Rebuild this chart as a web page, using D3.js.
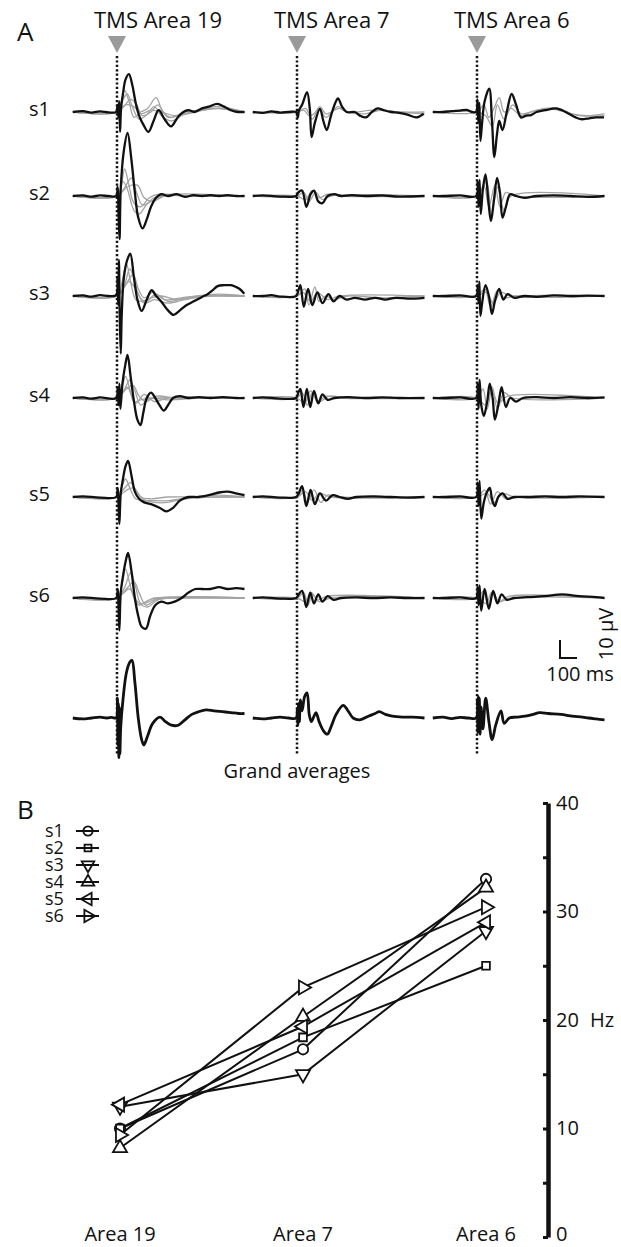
<!DOCTYPE html>
<html><head><meta charset="utf-8">
<script src="https://cdn.jsdelivr.net/npm/d3@7"></script>
<style>body{margin:0;background:#fff} svg{display:block} text{font-family:"Open Sans",sans-serif;fill:#111}</style>
</head><body><svg id="c" width="621" height="1247"></svg>
<script>
// ---------------- DATA ----------------
const headers = ["TMS Area 19", "TMS Area 7", "TMS Area 6"];
const subjects = ["s1", "s2", "s3", "s4", "s5", "s6"];
const gaLabel = "Grand averages";
// traces: [ms after TMS, µV]
const s1_a19 = [[-260,0],[-200,0.5],[-150,-0.3],[-100,0.4],[-50,-0.2],[-5,0],[3,4],[8,-3],[13,6],[18,-11],[24,2],[35,10],[50,18],[70,21],[90,15],[110,5],[130,-2],[155,-7],[185,-11],[215,-5],[245,1],[280,-4],[318,-8],[350,-4],[376,-1],[420,1],[455,0],[500,2],[540,3],[590,4.5],[630,3],[670,1],[710,0],[750,0]];
const s1_a7 = [[-260,0],[-200,-0.5],[-150,0.3],[-100,-0.3],[-50,0],[-5,0],[5,-3],[12,1],[30,4],[59,11],[75,2],[86,-14],[105,-6],[135,1.7],[155,-5],[175,-10],[200,-2],[225,5],[241,7.6],[265,3],[292,0],[340,0],[370,-2],[405,-3],[440,0],[474,2],[510,1],[553,0],[600,-0.5],[650,-1.5],[700,-3],[720,-2.5],[745,-1]];
const s1_a6 = [[-260,0],[-200,0],[-150,0.5],[-100,0.8],[-60,1.2],[-30,0],[-5,0],[3,7],[8,-6],[14,5],[20,-16],[30,-6],[45,6],[72,13],[88,-5],[102,-25],[118,-12],[131,-5],[150,-10],[175,0],[204,10],[230,4],[259,-3],[290,-2],[318,-1.7],[350,0],[400,1],[465,2],[500,1],[540,-1],[580,-3],[612,-4],[660,-3.5],[700,-3],[747,-3]];
const s2_a19 = [[-260,0],[-200,0.3],[-150,-0.3],[-100,0.3],[-50,0],[-5,0],[4,5],[9,-10],[15,-24],[22,4],[40,25],[62,35],[85,20],[105,2],[125,-12],[150,-18],[175,-13],[200,-6],[230,-1],[260,1],[300,0],[350,1],[400,-0.5],[450,0.5],[500,0],[550,0.5],[600,0],[650,0.5],[700,0],[750,0]];
const s2_a7 = [[-260,0],[-200,0.3],[-100,-0.3],[-5,0],[8,2],[30,3],[55,-6],[80,1],[100,3],[125,-3],[150,-4],[180,0],[220,1],[260,0],[320,0.5],[400,0],[500,0.3],[600,-0.3],[750,0]];
const s2_a6 = [[-260,0],[-200,0],[-100,0.3],[-5,0],[4,8],[9,-6],[15,9],[22,-10],[35,4],[50,12],[68,-4],[82,-14],[100,-2],[118,10],[135,2],[150,-12],[170,-6],[195,1],[230,0],[280,-1],[350,0],[450,0.3],[550,0],[650,-0.5],[750,0]];
const s3_a19 = [[-260,0],[-200,0.3],[-150,-0.3],[-100,0.5],[-50,0],[-5,0.5],[3,10],[7,-5],[11,20],[16,-10],[22,-32],[28,-10],[40,10],[60,20],[78,23.5],[100,10],[120,-2],[145,-8.3],[175,-2],[204,3.2],[230,0],[260,-3],[300,-8],[333,-10.5],[370,-8],[410,-5],[455,-2.8],[500,-0.5],[533,1],[560,3],[592,5.5],[630,6],[670,6],[700,5],[720,4],[749,1.3]];
const s3_a7 = [[-260,0],[-200,0],[-150,0.5],[-100,-0.3],[-5,0],[8,3],[20,6],[40,-6],[65,4],[90,-5],[120,2],[150,-4],[185,1],[215,-3],[250,0],[290,-2],[340,-1],[400,-2],[460,-1],[520,-2],[580,-1],[650,-1.5],[750,-1]];
const s3_a6 = [[-260,0],[-200,0],[-100,0.3],[-5,0],[4,6],[9,-4],[14,8],[20,-11],[30,-4],[50,6],[70,0],[88,-10],[105,-3],[130,4],[155,-2],[180,1],[220,-1],[280,0],[350,-0.5],[450,0.3],[550,0],[650,0.2],[750,0]];
const s4_a19 = [[-260,0],[-200,0.3],[-150,-0.3],[-100,0.3],[-5,0],[4,6],[9,-4],[14,8],[20,-6],[32,8],[48,18],[62,24],[80,12],[100,-2],[120,-12],[138,-15],[155,-8],[175,0],[200,3],[225,0],[250,-4],[275,-7],[300,-4],[330,0],[370,1],[420,0],[480,0.5],[550,0],[620,0.5],[700,0],[750,0]];
const s4_a7 = [[-260,0],[-200,0.3],[-100,-0.3],[-5,0],[8,3],[20,5],[38,-5],[58,5],[78,-5],[100,4],[125,-3],[150,2],[180,-1],[220,0],[300,0.5],[400,0],[500,0.3],[600,0],[750,0]];
const s4_a6 = [[-260,0],[-200,0],[-100,0.3],[-5,0],[4,8],[9,-6],[15,10],[25,-4],[40,-10],[60,-2],[75,8],[92,0],[105,-12],[125,-4],[145,6],[170,-5],[195,0],[230,-2],[270,0],[350,0.5],[450,0],[550,0.5],[650,0],[750,0.3]];
const s5_a19 = [[-260,0],[-200,0.3],[-100,-0.3],[-5,0],[4,5],[9,-4],[14,-15],[22,2],[35,10],[50,17],[65,20],[85,12],[105,3],[130,-1],[160,-3],[200,-4],[250,-6],[290,-8],[330,-6],[370,-2],[420,0],[480,0],[540,1],[600,2.5],[650,3],[700,2],[750,1]];
const s5_a7 = [[-260,0],[-200,0.3],[-100,-0.3],[-5,0],[10,2],[30,6],[55,-5],[80,4],[105,-4],[135,2],[170,-2],[210,1],[250,0],[300,-1],[350,0],[450,0.3],[550,0],[650,-0.3],[750,0]];
const s5_a6 = [[-260,0],[-200,0],[-100,0.3],[-5,0],[4,8],[9,-5],[15,9],[25,-12],[40,-3],[60,3],[75,5],[90,-2],[105,-5],[125,0],[150,2],[180,-1],[220,0],[300,0],[400,0.3],[500,0],[600,0.3],[750,0]];
const s6_a19 = [[-260,0],[-200,0.3],[-100,-0.3],[-5,0],[4,5],[9,-5],[14,-18],[22,3],[35,12],[50,20],[65,25],[85,15],[105,0],[125,-10],[145,-16],[170,-17],[195,-10],[225,-4],[260,-2],[300,-3],[340,-2],[380,0],[420,3],[460,5],[500,5],[550,5],[600,6],[650,5],[700,5.5],[750,5]];
const s6_a7 = [[-260,0],[-200,0.3],[-100,-0.3],[-5,0],[10,2],[30,4],[55,-5],[78,3],[100,-3],[125,2],[150,-2],[180,1],[215,-1],[260,0],[350,0.3],[450,0],[550,0.3],[650,0],[750,0]];
const s6_a6 = [[-260,0],[-200,0],[-100,0.3],[-5,0],[4,6],[9,-4],[15,7],[25,-7],[45,5],[70,-6],[95,4],[120,-3],[145,2],[175,-1],[220,0],[300,0.5],[400,1],[500,2],[600,1],[700,0.5],[750,0]];
const ga_a19 = [[-260,0],[-200,-0.5],[-150,0],[-100,0.5],[-60,0],[-30,0.3],[-5,0],[2,11],[5,-15],[8,8],[11,-22],[14,6],[17,-20],[22,-5],[35,10],[55,25],[75,31],[88,32],[105,20],[125,0],[145,-12],[158,-15],[180,-10],[210,-3],[253,0.5],[285,-2],[320,-4],[360,-4],[400,-1],[440,2],[480,3.5],[524,4.5],[570,4],[620,3.5],[670,3],[715,2.5],[750,2.5]];
const ga_a7 = [[-260,0],[-200,-0.5],[-150,0],[-100,0.5],[-50,0],[-5,0],[2,5],[5,-4],[9,8],[14,-2],[20,10],[30,4],[45,12],[59,14],[72,2],[84,-2],[100,1],[112,3],[130,-2],[155,-7],[178,-9],[200,-5],[230,2],[272,7],[300,4],[330,0],[370,-1],[420,1],[460,2.5],[484,3.5],[520,2],[560,1],[620,0.5],[680,0.5],[750,0]];
const ga_a6 = [[-260,0],[-200,0.5],[-150,-0.3],[-100,0.3],[-50,0],[-5,0],[2,10],[5,-8],[8,12],[11,-8],[14,11],[18,-9],[24,6],[35,-6],[51,11],[70,-2],[89,-12],[110,-4],[141,4],[160,-3],[190,0],[230,0.5],[283,1],[330,2],[368,3],[420,2.5],[494,2],[560,1],[620,0.5],[655,0],[700,-0.5],[750,-1]];
// grey single-channel traces
const s1_a19_g = [[[-260,0],[0,0],[20,4],[45,12],[70,6],[100,-3],[140,0],[180,2],[230,8],[270,0],[320,-3],[400,0],[500,1],[600,2],[750,0]],[[-260,0],[0,0],[30,6],[60,10],[90,3],[130,-4],[170,-2],[220,3],[260,-2],[320,-5],[400,-1],[550,2],[750,0]],[[-260,0],[0,0],[40,3],[80,7],[110,5],[150,-2],[200,0],[240,4],[300,-3],[360,-2],[460,0],[580,3],[750,0]],[[-260,0],[0,0],[50,4],[100,3],[140,-1],[200,1],[260,0],[340,-2],[450,0],[600,2],[750,0]]];
const s1_a7_g = [[[-260,0],[0,0],[40,1],[70,-2],[100,-1],[135,3],[170,-1],[220,1],[250,2],[290,0],[400,-1],[500,1],[600,0],[750,0]],[[-260,0],[0,0],[50,2],[90,-4],[130,2],[170,-3],[240,3],[300,0],[450,1],[600,0],[750,-1]]];
const s1_a6_g = [[[-260,0],[0,0],[40,4],[70,-3],[100,2],[131,8],[160,0],[200,2],[260,-2],[320,0],[400,2],[480,2],[560,-1],[650,-2],[750,-1]],[[-260,0],[0,0],[50,-2],[90,-8],[120,4],[160,-4],[210,4],[260,-1],[350,1],[450,1.5],[600,-2],[750,-2]]];
const s2_a19_g = [[[-260,0],[0,0],[25,6],[45,15],[70,6],[100,-4],[140,-6],[190,-1],[250,1],[400,0],[600,0],[750,0]],[[-260,0],[0,0],[40,4],[85,10],[115,2],[150,-5],[200,-3],[260,0],[450,0],[750,0]],[[-260,0],[0,0],[60,5],[120,6],[160,-1],[210,-3],[280,0],[500,0],[750,0]],[[-260,0],[0,0],[35,8],[60,4],[100,-8],[130,-10],[180,-4],[240,0],[750,0]]];
const s2_a7_g = [[[-260,0],[0,0],[40,2],[70,-3],[110,2],[150,-2],[200,0],[750,0]],[[-260,0],[0,0],[50,-2],[90,3],[130,-1],[180,1],[250,0],[750,0]]];
const s2_a6_g = [[[-260,0],[0,0],[40,6],[70,-6],[105,6],[135,-6],[170,2],[220,0],[750,0]],[[-260,0],[0,0],[55,8],[85,-10],[120,5],[160,-8],[200,0],[750,0]]];
const s3_a19_g = [[[-260,0],[0,0],[30,8],[55,18],[80,8],[110,-2],[150,-3],[200,-1],[260,0],[350,-2],[450,-1],[550,0],[650,0],[750,0]],[[-260,0],[0,0],[40,5],[75,15],[100,10],[130,0],[170,-3],[230,1],[300,-3],[400,-1],[600,1],[750,0]],[[-260,0],[0,0],[50,6],[95,12],[125,4],[160,-1],[210,2],[280,-2],[380,-1],[500,0],[750,0]],[[-260,0],[0,0],[35,4],[70,8],[110,4],[160,-4],[220,-2],[300,-4],[400,-2],[520,0],[750,0]]];
const s3_a7_g = [[[-260,0],[0,0],[45,4],[70,-5],[105,5],[130,-3],[170,0],[210,-2],[300,0],[500,-1],[750,0]],[[-260,0],[0,0],[35,2],[80,-3],[120,2],[180,-2],[250,0],[750,0]]];
const s3_a6_g = [[[-260,0],[0,0],[45,4],[80,-6],[120,3],[160,-1],[220,0],[750,0]],[[-260,0],[0,0],[55,2],[95,-4],[140,2],[200,0],[750,0]]];
const s4_a19_g = [[[-260,0],[0,0],[30,6],[50,12],[75,5],[100,-2],[140,-1],[200,0],[300,-1],[500,0],[750,0]],[[-260,0],[0,0],[40,4],[75,10],[105,4],[140,-4],[180,-1],[250,0],[750,0]],[[-260,0],[0,0],[55,5],[95,7],[130,1],[170,-2],[230,1],[350,0],[750,0]],[[-260,0],[0,0],[30,3],[60,6],[110,-3],[160,2],[220,-2],[300,0],[750,0]]];
const s4_a7_g = [[[-260,0],[0,0],[30,3],[60,-4],[90,3],[120,-2],[170,1],[250,0],[750,0]],[[-260,0],[0,0],[45,-3],[80,4],[130,-2],[190,1],[300,0],[750,0]]];
const s4_a6_g = [[[-260,0],[0,0],[35,5],[60,-6],[90,6],[120,-6],[160,3],[210,0],[750,0]],[[-260,0],[0,0],[50,-4],[85,5],[125,-3],[180,1],[750,0]]];
const s5_a19_g = [[[-260,0],[0,0],[30,6],[50,10],[80,4],[110,-1],[150,-2],[200,-2],[300,-2],[450,0],[600,1],[750,0]],[[-260,0],[0,0],[45,5],[80,8],[110,4],[150,-1],[220,-3],[300,-3],[400,-1],[600,0],[750,0]],[[-260,0],[0,0],[60,4],[100,5],[140,0],[200,-1],[300,0],[500,0],[750,0]]];
const s5_a7_g = [[[-260,0],[0,0],[35,4],[60,-3],[100,4],[140,-3],[180,1],[250,0],[750,0]],[[-260,0],[0,0],[50,3],[90,-2],[130,2],[200,0],[750,0]]];
const s5_a6_g = [[[-260,0],[0,0],[45,4],[80,-4],[120,3],[170,-1],[250,0],[750,0]],[[-260,0],[0,0],[60,2],[100,-3],[150,2],[220,0],[750,0]]];
const s6_a19_g = [[[-260,0],[0,0],[30,8],[50,16],[75,8],[100,0],[130,-4],[170,-2],[220,0],[400,0],[750,0]],[[-260,0],[0,0],[45,6],[80,14],[110,6],[140,-3],[190,-2],[250,0],[750,0]],[[-260,0],[0,0],[55,5],[100,9],[130,3],[170,-4],[230,-1],[400,0.5],[750,0]],[[-260,0],[0,0],[40,3],[75,5],[120,-2],[180,-5],[240,-1],[350,0],[750,0]]];
const s6_a7_g = [[[-260,0],[0,0],[40,3],[65,-4],[90,2],[130,-2],[200,0],[750,0]],[[-260,0],[0,0],[50,-2],[85,3],[120,-1],[180,1],[750,0]]];
const s6_a6_g = [[[-260,0],[0,0],[40,4],[65,-5],[95,3],[130,-2],[200,0],[750,0]],[[-260,0],[0,0],[55,-3],[85,3],[125,-2],[190,1],[750,0]]];
// scale bar
const scaleMs = 100, scaleUv = 10;
// Panel B
const areasB = ["Area 19", "Area 7", "Area 6"];
const freqS1 = [10, 17.3, 33];
const freqS2 = [10, 18.4, 25];
const freqS3 = [12, 15, 28.2];
const freqS4 = [8.2, 20.3, 32.2];
const freqS5 = [12.2, 19.4, 29];
const freqS6 = [9.4, 23, 30.4];
const hzTicks = [0, 5, 10, 15, 20, 25, 30, 35, 40];
const hzLabels = [0, 10, 20, 30, 40];

// ---------------- LAYOUT ----------------
const svg = d3.select("#c");
const stimX = [117, 297, 477];
const rowBase = [112, 196, 296, 398, 497, 598, 718];
const blackRows = [[s1_a19,s1_a7,s1_a6],[s2_a19,s2_a7,s2_a6],[s3_a19,s3_a7,s3_a6],[s4_a19,s4_a7,s4_a6],[s5_a19,s5_a7,s5_a6],[s6_a19,s6_a7,s6_a6],[ga_a19,ga_a7,ga_a6]];
const greyRows = [[s1_a19_g,s1_a7_g,s1_a6_g],[s2_a19_g,s2_a7_g,s2_a6_g],[s3_a19_g,s3_a7_g,s3_a6_g],[s4_a19_g,s4_a7_g,s4_a6_g],[s5_a19_g,s5_a7_g,s5_a6_g],[s6_a19_g,s6_a7_g,s6_a6_g]];

svg.append("text").attr("x", 17).attr("y", 41).attr("font-size", 26).text("A");

headers.forEach((h, i) => {
  svg.append("text").attr("x", stimX[i] - 23).attr("y", 28).attr("font-size", 22).text(h);
  svg.append("path").attr("d", `M${stimX[i]-9},36 L${stimX[i]+9},36 L${stimX[i]},53 Z`).attr("fill", "#9a9a9a");
  svg.append("line").attr("x1", stimX[i]).attr("x2", stimX[i]).attr("y1", 56).attr("y2", 754)
    .attr("stroke", "#111").attr("stroke-width", 2.5).attr("stroke-dasharray", "2.2,2.2");
});

function xs(i) { return d3.scaleLinear().domain([0, 100]).range([stimX[i], stimX[i] + 17]); }
function ys(r) { return d3.scaleLinear().domain([0, 10]).range([rowBase[r], rowBase[r] - 18]); }

blackRows.forEach((row, r) => {
  const y = ys(r);
  row.forEach((tr, i) => {
    const x = xs(i);
    const line = d3.line().x(d => x(d[0])).y(d => y(d[1])).curve(d3.curveCatmullRom.alpha(0.5));
    if (r < 6) {
      greyRows[r][i].forEach(g => {
        svg.append("path").attr("d", line(g)).attr("fill", "none").attr("stroke", "#a3a3a3").attr("stroke-width", 1.3);
      });
    }
    svg.append("path").attr("d", line(tr)).attr("fill", "none").attr("stroke", "#111")
      .attr("stroke-width", r < 6 ? 2.3 : 2.8).attr("stroke-linejoin", "round");
  });
  if (r < 6) svg.append("text").attr("x", 29).attr("y", rowBase[r] + 4).attr("font-size", 20).text(subjects[r]);
});

svg.append("text").attr("x", 297).attr("y", 778).attr("text-anchor", "middle").attr("font-size", 20).text(gaLabel);

// scale bar
{
  const x = xs(2), y = ys(5);
  const x0 = 560, y0 = 658;
  const w = x(scaleMs) - x(0), h = y(0) - y(scaleUv);
  svg.append("path").attr("d", `M${x0},${y0 - h} L${x0},${y0} L${x0 + w},${y0}`).attr("fill", "none").attr("stroke", "#111").attr("stroke-width", 2);
  svg.append("text").attr("x", 580).attr("y", 681).attr("text-anchor", "middle").attr("font-size", 20).text(scaleMs + " ms");
  svg.append("text").attr("transform", "translate(613,634) rotate(-90)").attr("text-anchor", "middle").attr("font-size", 20).text(scaleUv + " µV");
}

// ---------------- PANEL B ----------------
svg.append("text").attr("x", 17).attr("y", 819).attr("font-size", 26).text("B");
const xb = d3.scalePoint().domain(areasB).range([120, 486]);
const yb = d3.scaleLinear().domain([0, 40]).range([1237, 803]);

const axis = d3.axisLeft(yb).tickValues(hzTicks).tickSize(5).tickSizeOuter(0).tickFormat("");
const ag = svg.append("g").attr("transform", "translate(548,0)").call(axis);
ag.select(".domain").attr("stroke", "#111").attr("stroke-width", 4.5);
ag.selectAll(".tick line").attr("stroke", "#111").attr("stroke-width", 3);
hzLabels.forEach(v => {
  svg.append("text").attr("x", 556).attr("y", Math.min(yb(v) + 6.5, 1241)).attr("font-size", 20).text(v);
});
svg.append("text").attr("x", 590).attr("y", yb(20) + 6.5).attr("font-size", 20).text("Hz");

areasB.forEach(a => {
  svg.append("text").attr("x", xb(a)).attr("y", 1241).attr("text-anchor", "middle").attr("font-size", 20).text(a);
});

const series = [freqS1, freqS2, freqS3, freqS4, freqS5, freqS6];
const symType = [d3.symbolCircle, d3.symbolSquare, d3.symbolTriangle, d3.symbolTriangle, d3.symbolTriangle, d3.symbolTriangle];
const symRot = [0, 0, 180, 0, -90, 90];
const symSize = [85, 60, 85, 85, 85, 85];

const lb = d3.line().x((d, i) => xb(areasB[i])).y(d => yb(d));
series.forEach(s => {
  svg.append("path").attr("d", lb(s)).attr("fill", "none").attr("stroke", "#111").attr("stroke-width", 2);
});
series.forEach((s, k) => {
  s.forEach((v, i) => {
    svg.append("path").attr("d", d3.symbol().type(symType[k]).size(symSize[k])())
      .attr("transform", `translate(${xb(areasB[i])},${yb(v)}) rotate(${symRot[k]})`)
      .attr("fill", "#fff").attr("stroke", "#111").attr("stroke-width", 1.8);
  });
});

// legend
subjects.forEach((s, k) => {
  const yy = 831 + k * 17;
  svg.append("text").attr("x", 45).attr("y", yy + 6).attr("font-size", 18).text(s);
  svg.append("line").attr("x1", 76).attr("x2", 99).attr("y1", yy).attr("y2", yy).attr("stroke", "#111").attr("stroke-width", 2);
  svg.append("path").attr("d", d3.symbol().type(symType[k]).size(symSize[k] * 0.8)())
    .attr("transform", `translate(88,${yy}) rotate(${symRot[k]})`)
    .attr("fill", "none").attr("stroke", "#111").attr("stroke-width", 1.8);
});
</script></body></html>
